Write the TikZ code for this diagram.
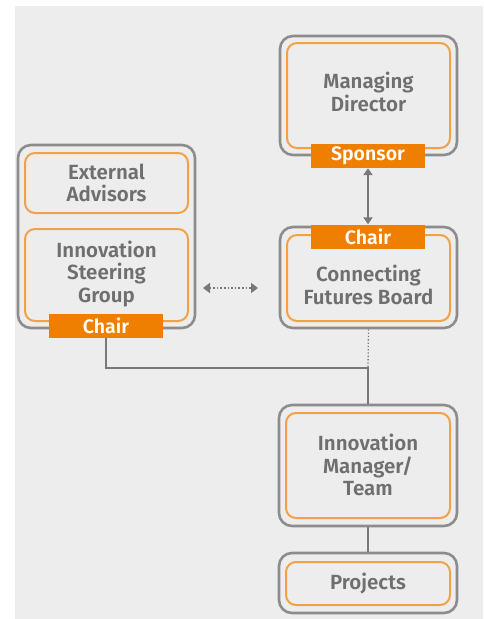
\documentclass[tikz,border=0pt]{standalone}
\usepackage{fontspec}
\setmainfont{Fira Sans}[BoldFont={Fira Sans SemiBold}]
\usetikzlibrary{arrows.meta}
\definecolor{bgpanel}{HTML}{EDEDED}
\definecolor{frame}{HTML}{8C8C8C}
\definecolor{innerline}{HTML}{F2A245}
\definecolor{tag}{HTML}{EE7F00}
\definecolor{txt}{HTML}{6F6F6F}
\definecolor{conn}{HTML}{787878}
\tikzset{
  outerbox/.style={draw=frame, line width=2.6pt, rounded corners=13pt, inner sep=0pt},
  innerbox/.style={draw=innerline, line width=2pt, rounded corners=10pt, inner sep=0pt},
  label text/.style={text=txt, font=\fontsize{20.5}{22.5}\selectfont\bfseries, align=center, inner sep=0pt},
  tagbox/.style={fill=tag, text=white, font=\fontsize{19.5}{20}\selectfont\bfseries,
    minimum width=114pt, minimum height=24pt, inner sep=0pt},
  link/.style={draw=conn, line width=2pt},
}
\begin{document}
\begin{tikzpicture}[x=1pt,y=-1pt]
\useasboundingbox (0,0) rectangle (483,619);
\fill[white] (0,0) rectangle (483,619);
\fill[bgpanel] (15,6) rectangle (483,619);

% Managing Director
\node[outerbox, minimum width=177pt, minimum height=119pt] (mdout) at (368.5,95.5) {};
\node[innerbox, minimum width=163pt, minimum height=105pt] (mdin) at (368.5,95.5) {};
\node[label text] (mdtext) at (368.5,92) {Managing\\Director};
\node[tagbox] (sponsor) at (368,156) {Sponsor};

% External Advisors / Innovation Steering Group
\node[outerbox, minimum width=177pt, minimum height=183pt] (isgout) at (106.5,236.5) {};
\node[innerbox, minimum width=163pt, minimum height=60pt] (eain) at (106.5,183) {};
\node[label text] (eatext) at (106.5,183) {External\\Advisors};
\node[innerbox, minimum width=163pt, minimum height=92pt] (isgin) at (106.5,275) {};
\node[label text] (isgtext) at (106.5,274) {Innovation\\Steering\\Group};
\node[tagbox] (chairl) at (106,326) {Chair};

% Connecting Futures Board
\node[outerbox, minimum width=177pt, minimum height=101pt] (cfbout) at (368.5,277.5) {};
\node[innerbox, minimum width=163pt, minimum height=86pt] (cfbin) at (368.5,278) {};
\node[label text] (cfbtext) at (368.5,285) {Connecting\\Futures Board};
\node[tagbox] (chairr) at (368,236.5) {Chair};

% Innovation Manager / Team
\node[outerbox, minimum width=178pt, minimum height=121pt] (imout) at (368,465.5) {};
\node[innerbox, minimum width=164pt, minimum height=105pt] (imin) at (368,465.5) {};
\node[label text] (imtext) at (368,465) {Innovation\\Manager/\\Team};

% Projects
\node[outerbox, minimum width=178pt, minimum height=60pt] (prout) at (368,583) {};
\node[innerbox, minimum width=164pt, minimum height=43pt] (prin) at (368,583.5) {};
\node[label text] (prtext) at (368,584) {Projects};

% Connectors
\draw[link, {Triangle[length=7pt,width=9pt]}-{Triangle[length=7pt,width=9pt]}] (sponsor) -- (chairr);

\coordinate (dl) at (203,288);
\coordinate (dr) at (258,288);
\draw[draw=conn, line width=1.6pt, dotted, {Triangle[length=7pt,width=10pt]}-{Triangle[length=7pt,width=10pt]}] (dl) -- (dr);

\coordinate (junction) at (368,368);
\draw[draw=conn, line width=1.3pt, dotted] (cfbout.south) -- (junction);
\draw[link] (chairl.south) |- (junction) -- (imout.north);
\draw[link] (imout.south) -- (prout.north);
\end{tikzpicture}
\end{document}
